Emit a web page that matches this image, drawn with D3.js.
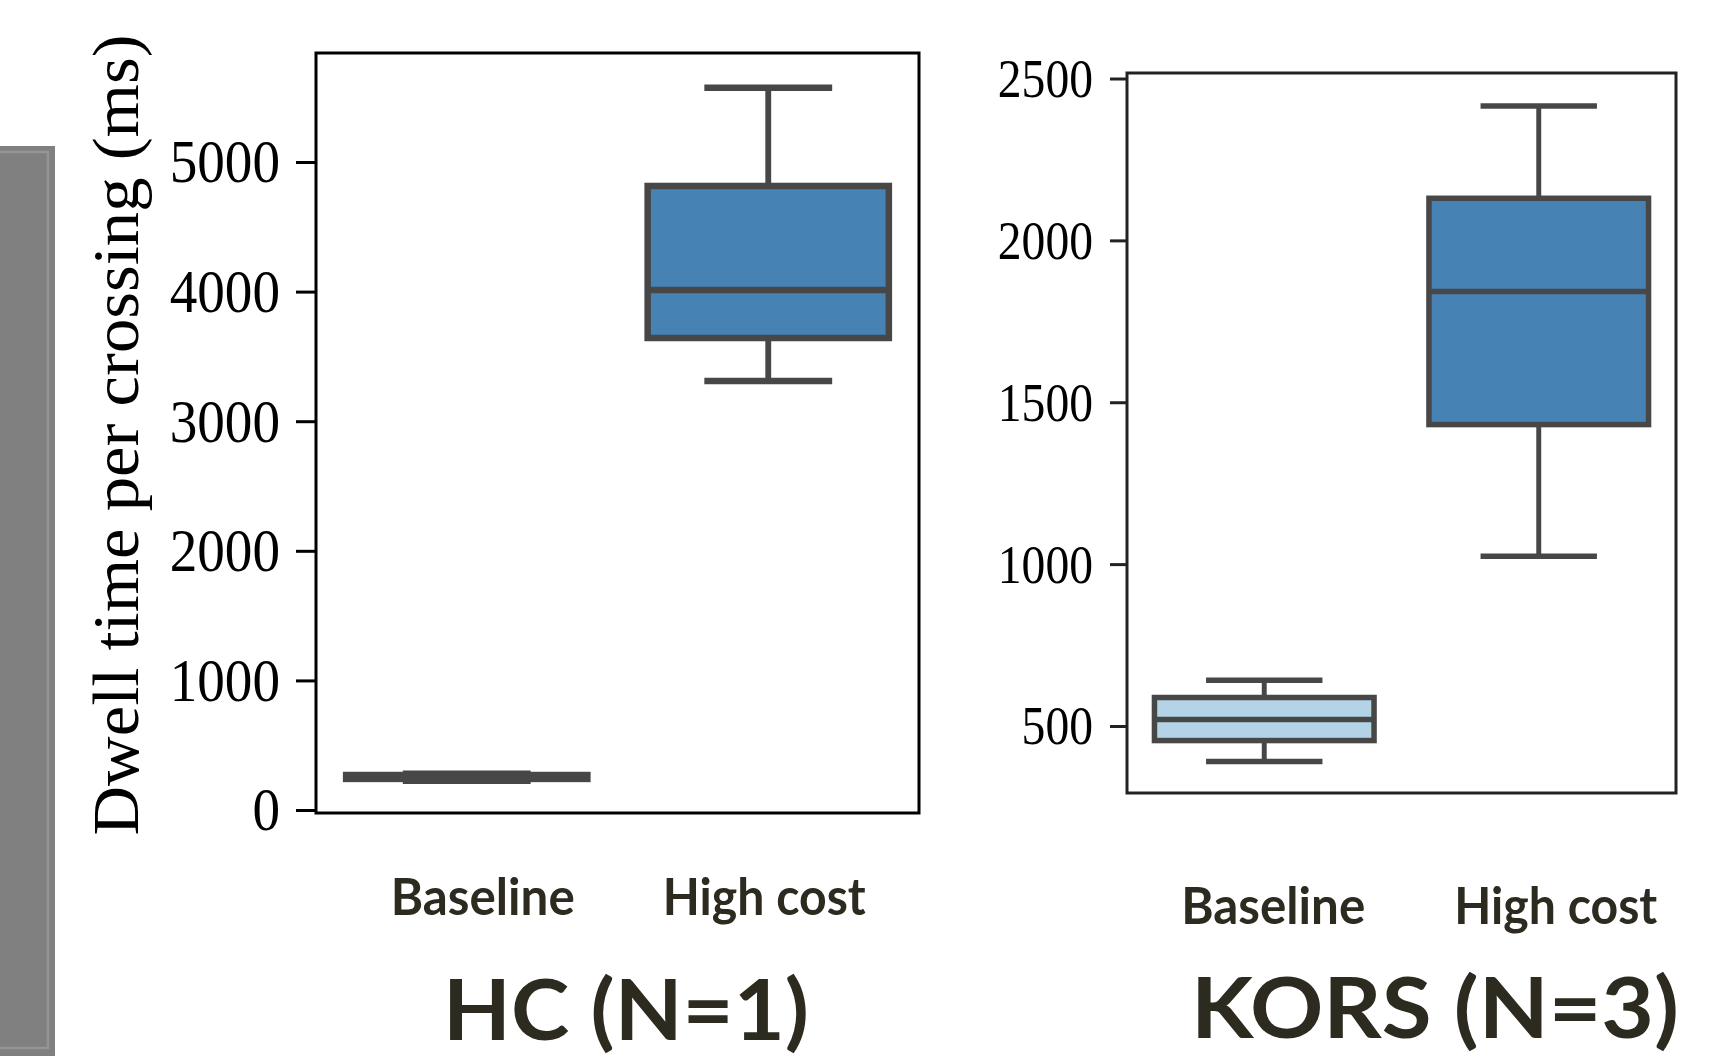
<!DOCTYPE html>
<html>
<head>
<meta charset="utf-8">
<style>
body { margin: 0; background: white; }
.tick text { font-family: "Liberation Serif", "Times New Roman", serif; fill: #000; }
.slide-text { font-family: Lato, "Open Sans", sans-serif; font-weight: 700; fill: #2d2b20; }
</style>
<script src="https://d3js.org/d3.v7.min.js"></script>
</head>
<body>
<div id="chart"></div>
<script>
// categories shared by both panels
var categories = ["Baseline", "High cost"];

// HC (N=1) box stats, one entry per category
var hcMin    = [225, 3310];
var hcQ1     = [240, 3642];
var hcMedian = [255, 4012];
var hcQ3     = [270, 4815];
var hcMax    = [280, 5572];
var hcTicks  = [0, 1000, 2000, 3000, 4000, 5000];

// KORS (N=3) box stats
var korsMin    = [390, 1024];
var korsQ1     = [455, 1431];
var korsMedian = [520, 1842];
var korsQ3     = [588, 2130];
var korsMax    = [641, 2415];
var korsTicks  = [500, 1000, 1500, 2000, 2500];

var boxFills = ["#b5d3e7", "#4682b4"];
var yLabel = "Dwell time per crossing (ms)";

var W = 1721, H = 1058;
var svg = d3.select("#chart").append("svg")
    .attr("width", W)
    .attr("height", H)
    .style("display", "block");

// grey strip on the slide's left edge
svg.append("rect")
    .attr("x", 0).attr("y", 146)
    .attr("width", 55).attr("height", 910)
    .attr("fill", "#808080");
svg.append("rect")
    .attr("x", -4).attr("y", 152)
    .attr("width", 52).attr("height", 896)
    .attr("fill", "none")
    .attr("stroke", "#959595")
    .attr("stroke-width", 2.5);

var panels = [
    {left: 316, right: 919, top: 53, bottom: 813, domain: [-23, 5841], ticks: hcTicks,
     min: hcMin, q1: hcQ1, med: hcMedian, q3: hcQ3, max: hcMax,
     lw: 6.5, frame: "#000", tickLen: 20, tickPad: 16, squeeze: 0.89, fontSize: 62,
     labelY: 915, labelDx: [16, -4], title: "HC (N=1)", titleX: 626, titleY: 1040, titleLen: 366},
    {left: 1127, right: 1676, top: 73, bottom: 793, domain: [293, 2517], ticks: korsTicks,
     min: korsMin, q1: korsQ1, med: korsMedian, q3: korsQ3, max: korsMax,
     lw: 5.5, frame: "#222", tickLen: 17, tickPad: 17, squeeze: 0.85, fontSize: 56,
     labelY: 924, labelDx: [9, 17], title: "KORS (N=3)", titleX: 1435, titleY: 1038, titleLen: 488}
];

var labelLens = [184, 203];

panels.forEach(function(p) {
    var x = d3.scaleBand().domain(categories).range([p.left, p.right]);
    var y = d3.scaleLinear().domain(p.domain).range([p.bottom, p.top]);
    var g = svg.append("g");

    var yAxis = g.append("g")
        .attr("transform", "translate(" + p.left + ",0)")
        .call(d3.axisLeft(y).tickValues(p.ticks).tickFormat(d3.format("d"))
              .tickSize(p.tickLen).tickPadding(p.tickPad));
    yAxis.select(".domain").remove();
    yAxis.selectAll(".tick line").attr("stroke", p.frame).attr("stroke-width", 3);
    yAxis.selectAll(".tick text")
        .attr("font-size", p.fontSize)
        .attr("x", 0)
        .attr("transform", "translate(" + (-(p.tickLen + p.tickPad)) + ",0) scale(" + p.squeeze + ",1)");

    var data = categories.map(function(c, i) {
        return {cat: c, i: i, min: p.min[i], q1: p.q1[i], med: p.med[i], q3: p.q3[i], max: p.max[i]};
    });
    var bw = x.bandwidth() * 0.8;
    var cw = bw * 0.53;
    var cx = function(d) { return x(d.cat) + x.bandwidth() / 2; };
    var stroke = "#474747";

    var box = g.selectAll(".box").data(data).enter().append("g").attr("class", "box");
    // whiskers
    box.append("line")
        .attr("x1", cx).attr("x2", cx)
        .attr("y1", function(d) { return y(d.max); })
        .attr("y2", function(d) { return y(d.q3); })
        .attr("stroke", stroke).attr("stroke-width", p.lw * 0.9);
    box.append("line")
        .attr("x1", cx).attr("x2", cx)
        .attr("y1", function(d) { return y(d.q1); })
        .attr("y2", function(d) { return y(d.min); })
        .attr("stroke", stroke).attr("stroke-width", p.lw * 0.9);
    // caps
    ["min", "max"].forEach(function(k) {
        box.append("line")
            .attr("x1", function(d) { return cx(d) - cw / 2; })
            .attr("x2", function(d) { return cx(d) + cw / 2; })
            .attr("y1", function(d) { return y(d[k]); })
            .attr("y2", function(d) { return y(d[k]); })
            .attr("stroke", stroke).attr("stroke-width", p.lw);
    });
    box.append("rect")
        .attr("x", function(d) { return cx(d) - bw / 2; })
        .attr("width", bw)
        .attr("y", function(d) { return y(d.q3); })
        .attr("height", function(d) { return y(d.q1) - y(d.q3); })
        .attr("fill", function(d) { return boxFills[d.i]; })
        .attr("stroke", stroke).attr("stroke-width", p.lw);
    box.append("line")
        .attr("x1", function(d) { return cx(d) - bw / 2; })
        .attr("x2", function(d) { return cx(d) + bw / 2; })
        .attr("y1", function(d) { return y(d.med); })
        .attr("y2", function(d) { return y(d.med); })
        .attr("stroke", stroke).attr("stroke-width", p.lw);

    // frame
    g.append("rect")
        .attr("x", p.left).attr("y", p.top)
        .attr("width", p.right - p.left).attr("height", p.bottom - p.top)
        .attr("fill", "none")
        .attr("stroke", p.frame).attr("stroke-width", 3);

    // category labels (slide text under each panel)
    g.selectAll(".cat").data(categories).enter().append("text")
        .attr("class", "slide-text")
        .attr("x", function(d, i) { return x(d) + x.bandwidth() / 2 + p.labelDx[i]; })
        .attr("y", p.labelY)
        .attr("text-anchor", "middle")
        .attr("font-size", 52)
        .attr("textLength", function(d, i) { return labelLens[i]; })
        .attr("lengthAdjust", "spacingAndGlyphs")
        .text(function(d) { return d; });

    g.append("text")
        .attr("class", "slide-text")
        .attr("x", p.titleX).attr("y", p.titleY)
        .attr("text-anchor", "middle")
        .attr("font-size", 84)
        .attr("textLength", p.titleLen)
        .attr("lengthAdjust", "spacingAndGlyphs")
        .text(p.title);
});

svg.append("text")
    .attr("transform", "translate(138,435) rotate(-90)")
    .attr("text-anchor", "middle")
    .attr("font-family", "Liberation Serif, Times New Roman, serif")
    .attr("font-size", 66)
    .attr("textLength", 801)
    .attr("lengthAdjust", "spacingAndGlyphs")
    .text(yLabel);
</script>
</body>
</html>
